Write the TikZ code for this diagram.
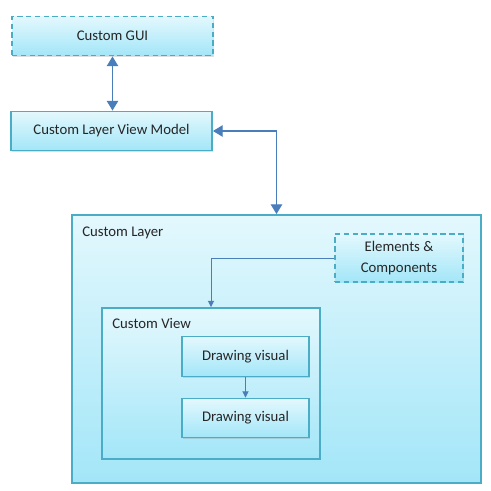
\documentclass[tikz,border=0pt]{standalone}
\usepackage{fontspec}
\setmainfont{Carlito}
\usetikzlibrary{arrows.meta,shadows}
\definecolor{bord}{HTML}{4BACC6}
\definecolor{haut}{HTML}{E3F8FD}
\definecolor{bas}{HTML}{A3E6F8}
\definecolor{lien}{HTML}{4A7EBB}
\definecolor{texte}{HTML}{262626}
\begin{document}
\begin{tikzpicture}[x=0.02cm,y=-0.02cm]
% Styles
\tikzstyle{boite}=[draw=bord,line width=1.1pt,top color=haut,bottom color=bas,
  text=texte,font=\fontsize{8.4pt}{11.6pt}\selectfont,align=center,inner sep=0pt,
  drop shadow={opacity=0.25,shadow xshift=0.8pt,shadow yshift=-0.8pt}]
\tikzstyle{pointille}=[boite,dashed,dash pattern=on 3pt off 2pt]
\tikzstyle{titre}=[text=texte,font=\fontsize{8.4pt}{10pt}\selectfont,anchor=north west,inner sep=0pt]
\tikzstyle{fleche}=[lien,line width=0.6pt,{Triangle[length=5.5pt,width=6.5pt]}-{Triangle[length=5.5pt,width=6.5pt]}]
\tikzstyle{petite}=[lien,line width=0.5pt,-{Triangle[length=3.5pt,width=3.5pt]}]
% Dimensions
\def\Px{0.02cm}
% Cadre de l'image
\useasboundingbox (0,0) rectangle (491,491);
% Boites du haut
\node[pointille,minimum width=201*\Px,minimum height=39*\Px] (gui) at (112.5,36) {Custom GUI};
\node[boite,minimum width=201*\Px,minimum height=39*\Px] (vm) at (111.5,131) {Custom Layer View Model};
% Couche
\node[boite,minimum width=409*\Px,minimum height=268*\Px] (couche) at (276.5,349) {};
\node[titre] (tcouche) at (82,226.5) {Custom Layer};
\node[pointille,minimum width=128*\Px,minimum height=48*\Px] (elem) at (399,258) {Elements \&\\Components};
% Vue
\node[boite,minimum width=218*\Px,minimum height=151*\Px] (vue) at (211,383.5) {};
\node[titre] (tvue) at (112,318) {Custom View};
\node[boite,minimum width=127*\Px,minimum height=40*\Px] (dv1) at (245.5,356.5) {Drawing visual};
\node[boite,minimum width=127*\Px,minimum height=39*\Px] (dv2) at (245.5,418) {Drawing visual};
% Liens
\draw[fleche] (gui.south) -- (gui.south |- vm.north);
\draw[fleche] (vm.east) -| (couche.north);
\draw[petite] (elem.west) -| (vue.north);
\draw[petite] (dv1.south) -- (dv2.north);
\end{tikzpicture}
\end{document}
